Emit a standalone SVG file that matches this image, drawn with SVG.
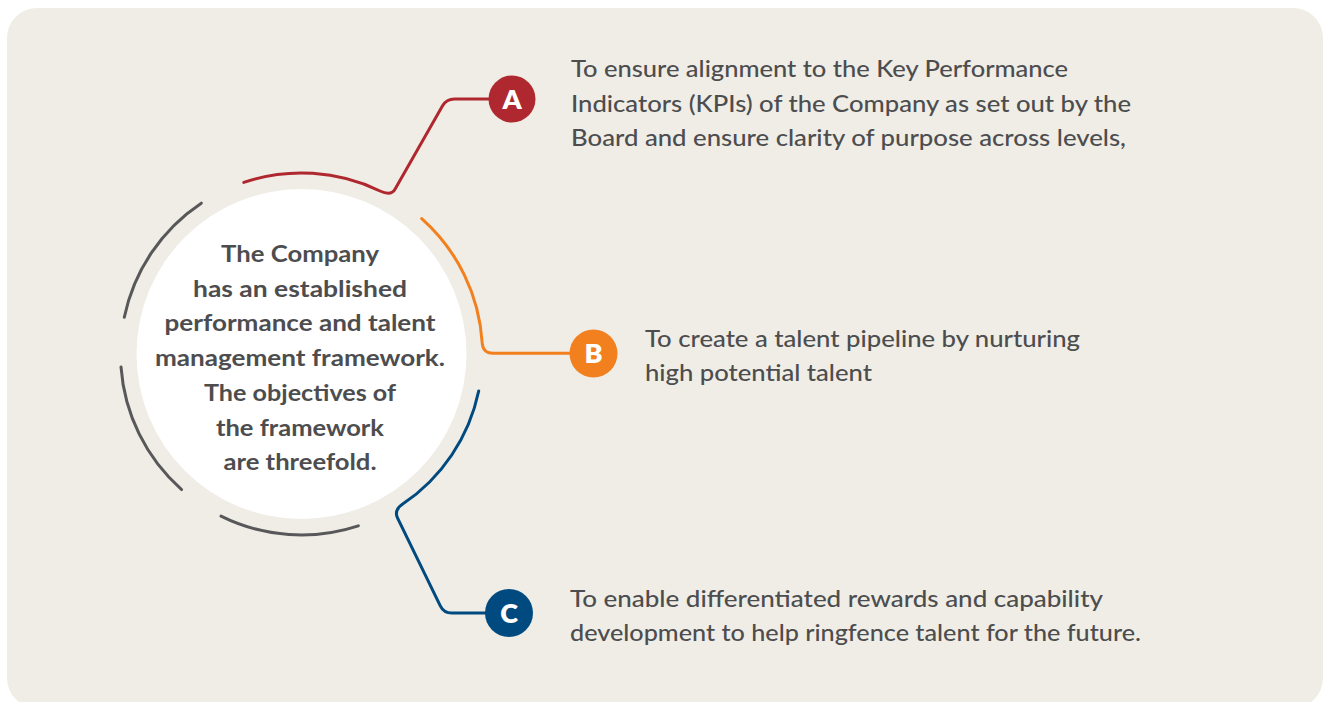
<svg xmlns="http://www.w3.org/2000/svg" width="1325" height="702" viewBox="0 0 1325 702">
  <style>
    .body { font-family: Lato, "Open Sans", "Liberation Sans", sans-serif; font-size: 23px; fill: #4d4d4f; font-weight: 500; }
    .center { font-family: Lato, "Open Sans", "Liberation Sans", sans-serif; font-size: 23px; fill: #4d4d4f; font-weight: 700; text-anchor: middle; }
    .badge { font-family: Lato, "Open Sans", "Liberation Sans", sans-serif; font-size: 27px; fill: #ffffff; font-weight: 800; text-anchor: middle; }
    .ring { fill: none; stroke-width: 3; stroke-linecap: round; stroke-linejoin: round; }
  </style>
  <rect x="0" y="0" width="1325" height="702" fill="#ffffff"/>
  <rect x="7" y="8" width="1316" height="700" rx="30" ry="30" fill="#efede6"/>

  <g id="connectors">
    <path class="ring" stroke="#58585a" d="M201.3,203.2 A181,181 0 0 0 124.3,317.3"/>
    <path class="ring" stroke="#58585a" d="M121,366.9 A181,181 0 0 0 181.6,489.6"/>
    <path class="ring" stroke="#58585a" d="M221,516.1 A181,181 0 0 0 358.3,525.8"/>
    <path class="ring" stroke="#b0282f" d="M243.8,182.4 A181,181 0 0 1 380,191 Q391,196.3 395,189.3 L442.4,106 Q446.4,99 454.4,99 L500,99"/>
    <path class="ring" stroke="#f2801f" d="M421.7,218.6 A181,181 0 0 1 482.2,343 Q483,353.3 493,353.3 L580,353.3"/>
    <path class="ring" stroke="#004a80" d="M478.7,391 A181,181 0 0 1 402.7,504.1 Q393.7,510.1 397.6,518.2 L440.3,605.8 Q443.8,613 451.8,613 L500,613"/>
  </g>

  <g id="node-center">
    <circle cx="301.5" cy="354" r="165" fill="#ffffff"/>
    <text class="center" x="300" y="262" textLength="158" lengthAdjust="spacingAndGlyphs">The Company</text>
    <text class="center" x="300" y="296.7" textLength="214" lengthAdjust="spacingAndGlyphs">has an established</text>
    <text class="center" x="300" y="331.4" textLength="271" lengthAdjust="spacingAndGlyphs">performance and talent</text>
    <text class="center" x="300" y="366" textLength="290" lengthAdjust="spacingAndGlyphs">management framework.</text>
    <text class="center" x="300" y="400.8" textLength="192" lengthAdjust="spacingAndGlyphs">The objectives of</text>
    <text class="center" x="300" y="435.5" textLength="168" lengthAdjust="spacingAndGlyphs">the framework</text>
    <text class="center" x="300" y="470" textLength="153" lengthAdjust="spacingAndGlyphs">are threefold.</text>
  </g>

  <g id="node-a">
    <circle cx="512" cy="99" r="23.5" fill="#b0282f"/>
    <text class="badge" x="512" y="108.8">A</text>
    <text class="body" x="571" y="77" textLength="497" lengthAdjust="spacingAndGlyphs">To ensure alignment to the Key Performance</text>
    <text class="body" x="571" y="111.5" textLength="560" lengthAdjust="spacingAndGlyphs">Indicators (KPIs) of the Company as set out by the</text>
    <text class="body" x="571" y="146" textLength="555" lengthAdjust="spacingAndGlyphs">Board and ensure clarity of purpose across levels,</text>
  </g>

  <g id="node-b">
    <circle cx="593.5" cy="353.5" r="24" fill="#f2801f"/>
    <text class="badge" x="593.5" y="363.3">B</text>
    <text class="body" x="645" y="346.5" textLength="435" lengthAdjust="spacingAndGlyphs">To create a talent pipeline by nurturing</text>
    <text class="body" x="645" y="380.5" textLength="227" lengthAdjust="spacingAndGlyphs">high potential talent</text>
  </g>

  <g id="node-c">
    <circle cx="509" cy="613" r="24" fill="#004a80"/>
    <text class="badge" x="509" y="622.8">C</text>
    <text class="body" x="570" y="607" textLength="533" lengthAdjust="spacingAndGlyphs">To enable differentiated rewards and capability</text>
    <text class="body" x="570" y="641" textLength="571" lengthAdjust="spacingAndGlyphs">development to help ringfence talent for the future.</text>
  </g>
</svg>
